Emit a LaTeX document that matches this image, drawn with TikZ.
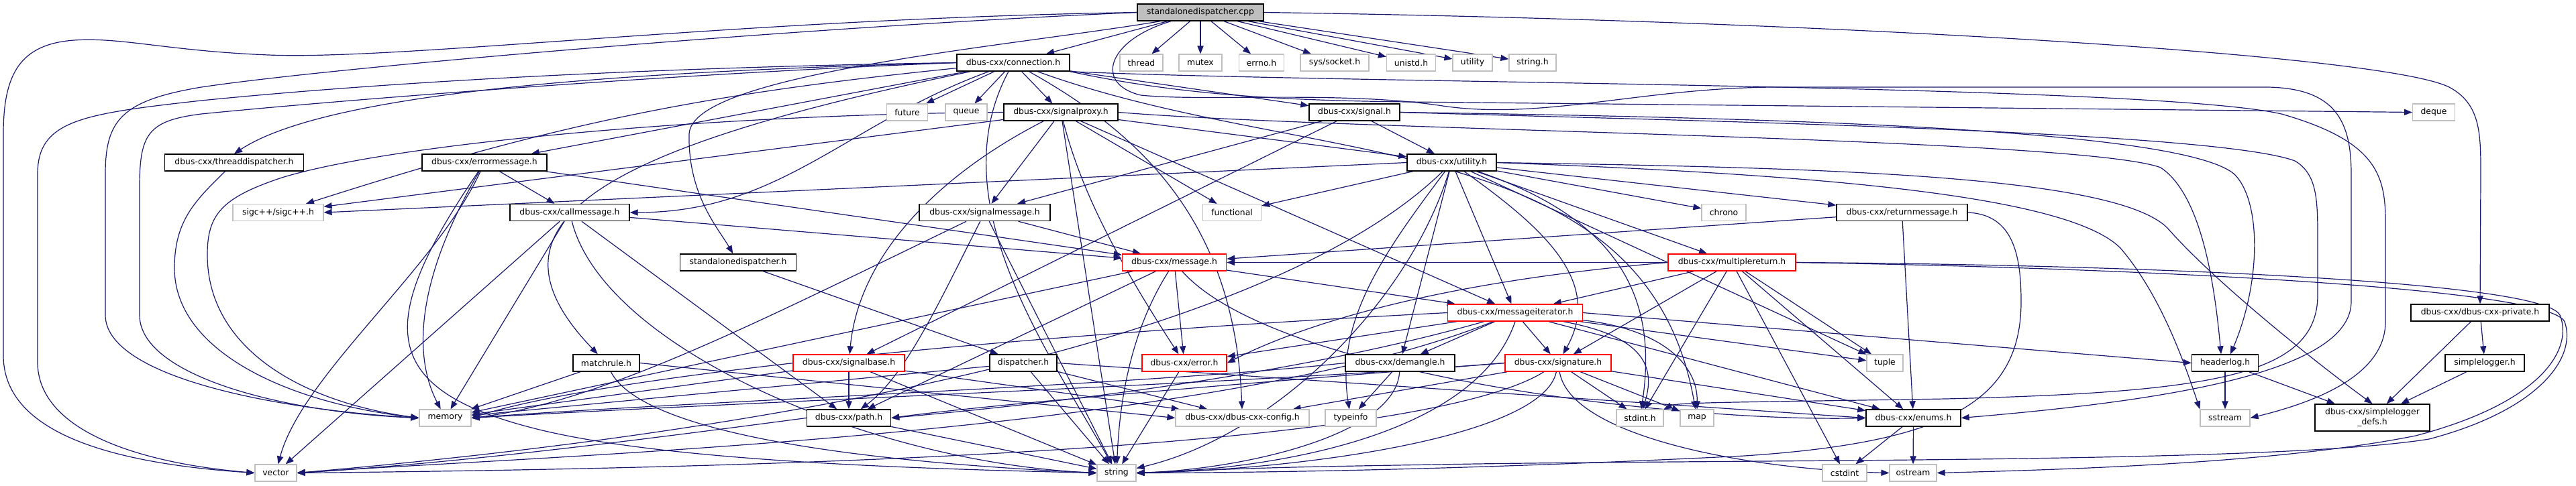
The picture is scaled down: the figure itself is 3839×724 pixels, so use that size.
\documentclass[tikz,border=0pt]{standalone}
\usepackage{fontspec}
\newfontfamily\dotfont{DejaVu Sans}
\usetikzlibrary{arrows.meta,backgrounds}
\definecolor{edgeblue}{HTML}{191970}
\definecolor{sysgray}{HTML}{BFBFBF}
\definecolor{rootgray}{HTML}{BFBFBF}

\begin{document}
\begin{tikzpicture}[
        x=0.5pt, y=-0.5pt,
        hdr/.style={draw=black, line width=0.7pt, fill=white, minimum height=12.5pt, inner xsep=2pt, inner ysep=0pt, font=\dotfont\fontsize{6.2}{7.4}\selectfont},
        redhdr/.style={hdr, draw=red},
        syshdr/.style={hdr, draw=sysgray, line width=0.6pt},
        srcfile/.style={hdr, fill=rootgray},
        inc/.style={-{Triangle[length=6pt,width=4.6pt]}, draw=edgeblue, line width=0.6pt}
    ]
        \useasboundingbox (0,0) rectangle (3839,724);
        \node[srcfile, minimum width=94pt] (cpp) at (1789,18.5) {standalonedispatcher.cpp};
        \node[hdr, minimum width=84pt] (conn) at (1510,93.5) {dbus-cxx/connection.h};
        \node[syshdr, minimum width=32pt] (thread) at (1701,93.5) {thread};
        \node[syshdr, minimum width=32pt] (mutex) at (1789,93.5) {mutex};
        \node[syshdr, minimum width=33.5pt] (errno) at (1880,93.5) {errno.h};
        \node[syshdr, minimum width=51pt] (socket) at (1989,93.5) {sys/socket.h};
        \node[syshdr, minimum width=36.5pt] (unistd) at (2103,93.5) {unistd.h};
        \node[syshdr, minimum width=29.5pt] (utilstd) at (2194.5,93.5) {utility};
        \node[syshdr, minimum width=35pt] (stringh) at (2284,93.5) {string.h};
        \node[syshdr, minimum width=30.5pt] (future) at (1352,167.5) {future};
        \node[syshdr, minimum width=31pt] (queue) at (1440,167.5) {queue};
        \node[hdr, minimum width=85pt] (sigproxy) at (1581,167.5) {dbus-cxx/signalproxy.h};
        \node[hdr, minimum width=67.5pt] (signalh) at (2018.5,167.5) {dbus-cxx/signal.h};
        \node[syshdr, minimum width=31.5pt] (deque) at (3627,167.5) {deque};
        \node[hdr, minimum width=103.5pt] (tdisp) at (349,242.5) {dbus-cxx/threaddispatcher.h};
        \node[hdr, minimum width=93pt] (errmsg) at (722,242.5) {dbus-cxx/errormessage.h};
        \node[hdr, minimum width=66.5pt] (utilh) at (2163.5,242.5) {dbus-cxx/utility.h};
        \node[syshdr, minimum width=67.5pt] (sigc) at (414.5,317) {sigc++/sigc++.h};
        \node[hdr, minimum width=89pt] (callmsg) at (849,317) {dbus-cxx/callmessage.h};
        \node[hdr, minimum width=97.5pt] (sigmsg) at (1467.5,317) {dbus-cxx/signalmessage.h};
        \node[syshdr, minimum width=43.5pt] (functional) at (1836,317) {functional};
        \node[syshdr, minimum width=33pt] (chrono) at (2569,317) {chrono};
        \node[hdr, minimum width=97.5pt] (retmsg) at (2834.5,317) {dbus-cxx/returnmessage.h};
        \node[hdr, minimum width=86.5pt] (sdisph) at (1100,391.5) {standalonedispatcher.h};
        \node[redhdr, minimum width=77.5pt] (msg) at (1750,391.5) {dbus-cxx/message.h};
        \node[redhdr, minimum width=95pt] (multret) at (2581,391.5) {dbus-cxx/multiplereturn.h};
        \node[redhdr, minimum width=100.5pt] (msgiter) at (2258,466.5) {dbus-cxx/messageiterator.h};
        \node[hdr, minimum width=103pt] (priv) at (3696,466.5) {dbus-cxx/dbus-cxx-private.h};
        \node[hdr, minimum width=49.5pt] (matchrule) at (903.5,541.5) {matchrule.h};
        \node[redhdr, minimum width=83pt] (sigbase) at (1265,541.5) {dbus-cxx/signalbase.h};
        \node[hdr, minimum width=50pt] (disp) at (1525,541.5) {dispatcher.h};
        \node[redhdr, minimum width=63pt] (error) at (1765,541.5) {dbus-cxx/error.h};
        \node[hdr, minimum width=81.5pt] (demangle) at (2086.5,541.5) {dbus-cxx/demangle.h};
        \node[redhdr, minimum width=79pt] (signature) at (2322,541.5) {dbus-cxx/signature.h};
        \node[syshdr, minimum width=27pt] (tuple) at (2809,541.5) {tuple};
        \node[hdr, minimum width=49.5pt] (hlog) at (3316,541.5) {headerlog.h};
        \node[hdr, minimum width=59pt] (slogger) at (3703,541.5) {simplelogger.h};
        \node[syshdr, minimum width=38.5pt] (memory) at (663.5,623.5) {memory};
        \node[hdr, minimum width=62.5pt] (path) at (1265,623.5) {dbus-cxx/path.h};
        \node[syshdr, minimum width=99.5pt] (config) at (1851.5,623.5) {dbus-cxx/dbus-cxx-config.h};
        \node[syshdr, minimum width=38pt] (typeinfo) at (2013,623.5) {typeinfo};
        \node[syshdr, minimum width=35pt] (stdint) at (2444,623.5) {stdint.h};
        \node[syshdr, minimum width=25pt] (map) at (2529,623.5) {map};
        \node[hdr, minimum width=70.5pt] (enums) at (2851.5,623.5) {dbus-cxx/enums.h};
        \node[syshdr, minimum width=37pt] (sstream) at (3316,623.5) {sstream};
        \node[hdr, minimum width=85.5pt, minimum height=20pt, align=center] (sldefs) at (3535.5,623) {dbus-cxx/simplelogger\\\_defs.h};
        \node[syshdr, minimum width=31pt] (vector) at (411,705.5) {vector};
        \node[syshdr, minimum width=29pt] (string) at (1664,705.5) {string};
        \node[syshdr, minimum width=33pt] (cstdint) at (2749,705.5) {cstdint};
        \node[syshdr, minimum width=35pt] (ostream) at (2851,705.5) {ostream};
        \begin{scope}[on background layer]
        \fill[white] (0,0) rectangle (3839,724);
        \draw[inc] (cpp) -- (conn);
        \draw[inc] (cpp) -- (thread);
        \draw[inc] (cpp) -- (mutex);
        \draw[inc] (cpp) -- (errno);
        \draw[inc] (cpp) -- (socket);
        \draw[inc] (cpp) -- (unistd);
        \draw[inc] (cpp) -- (utilstd);
        \draw[inc] (cpp) -- (stringh);
        \draw[inc] ([xshift=-30pt]cpp.south) .. controls (1500,70) and (1030,110) .. (1027,200) .. controls (1025,290) and (1070,340) .. (sdisph);
        \draw[inc] (cpp.east) .. controls (2700,30) and (3550,80) .. (3650,130) .. controls (3697,155) and (3697,200) .. (3697,260) -- (priv.north);
        \draw[inc] (cpp.west) .. controls (1100,28) and (600,90) .. (400,82) .. controls (250,76) and (180,55) .. (110,60) .. controls (30,66) and (5,110) .. (5,200) -- (5,530) .. controls (5,640) and (150,690) .. (vector.west);
        \draw[inc] (cpp.west) .. controls (1200,40) and (500,100) .. (300,130) .. controls (180,150) and (157,180) .. (157,260) -- (157,470) .. controls (157,560) and (400,610) .. (memory.west);
        \draw[inc] ([xshift=-22pt]cpp.south) .. controls (1650,60) and (1630,125) .. (1700,142) .. controls (1800,152) and (2000,135) .. (2150,158) .. controls (2300,180) and (2450,130) .. (2650,130) -- (3380,130) .. controls (3480,132) and (3504,180) .. (3504,260) -- (3504,450) .. controls (3504,560) and (3200,600) .. (enums.east);
        \draw[inc] (conn) -- (future);
        \draw[inc] (conn) -- (queue);
        \draw[inc] (conn) -- (sigproxy);
        \draw[inc] (conn) -- (signalh);
        \draw[inc] (conn.south east) .. controls (1750,140) and (1900,150) .. (2100,152) -- (deque.west);
        \draw[inc] (conn.west) .. controls (1000,105) and (500,130) .. (tdisp.north);
        \draw[inc] (conn) -- (errmsg);
        \draw[inc] (conn) to[bend right=6] (sigc);
        \draw[inc] (conn.west) .. controls (1000,100) and (600,120) .. (300,150) .. controls (120,170) and (56,180) .. (56,260) -- (56,540) .. controls (56,640) and (200,690) .. (vector.west);
        \draw[inc] (conn.west) .. controls (1000,110) and (500,150) .. (300,170) .. controls (220,180) and (208,200) .. (208,280) -- (208,470) .. controls (208,560) and (420,615) .. (memory.west);
        \draw[inc] (conn) .. controls (1700,200) and (1840,330) .. (config);
        \draw[inc] (conn) .. controls (900,220) and (700,330) .. (matchrule);
        \draw[inc] (conn) to[out=200,in=0] (callmsg.east);
        \draw[inc] (conn) to[out=-20,in=100] (map);
        \draw[inc] (conn) .. controls (1400,300) and (1560,520) .. (string);
        \draw[inc] (conn.south east) .. controls (2000,125) and (3200,125) .. (3400,170) .. controls (3540,210) and (3555,260) .. (3555,330) -- (3555,480) .. controls (3555,560) and (3450,600) .. (sstream.east);
        \draw[inc] (sigproxy) -- (sigmsg);
        \draw[inc] (sigproxy) -- (utilh);
        \draw[inc] (sigproxy) -- (functional);
        \draw[inc] (sigproxy) -- (sigc);
        \draw[inc] (sigproxy.west) .. controls (1100,170) and (600,210) .. (420,265) .. controls (330,295) and (309,320) .. (309,380) .. controls (309,520) and (450,600) .. (memory.west);
        \draw[inc] (sigproxy) -- (string);
        \draw[inc] (sigproxy) .. controls (1400,260) and (1280,380) .. (sigbase);
        \draw[inc] (sigproxy) .. controls (1610,280) and (1660,380) .. (error);
        \draw[inc] (sigproxy) -- (msgiter);
        \draw[inc] (sigproxy.east) .. controls (2000,195) and (3100,205) .. (3220,250) .. controls (3280,290) and (3300,420) .. ([xshift=-3pt]hlog.north);
        \draw[inc] (signalh) -- (utilh);
        \draw[inc] (signalh) -- (sigmsg);
        \draw[inc] (signalh) -- (sigbase);
        \draw[inc] (signalh.east) .. controls (2600,175) and (3250,190) .. (3330,260) .. controls (3370,300) and (3370,420) .. ([xshift=4pt]hlog.north);
        \draw[inc] (signalh.east) .. controls (2500,180) and (3300,195) .. (3420,240) .. controls (3454,260) and (3454,300) .. (3454,360) -- (3454,440) .. controls (3454,560) and (3300,585) .. (2900,595) .. controls (2600,600) and (2500,600) .. (stdint.north east);
        \draw[inc] (tdisp) .. controls (290,300) and (260,330) .. (260,400) .. controls (260,520) and (420,600) .. (memory.west);
        \draw[inc] (errmsg) -- (callmsg);
        \draw[inc] (errmsg) -- (msg);
        \draw[inc] (errmsg) .. controls (630,400) and (610,520) .. (memory);
        \draw[inc] (errmsg) .. controls (650,400) and (450,560) .. (vector);
        \draw[inc] (errmsg) .. controls (560,480) and (560,580) .. (800,640) .. controls (1000,690) and (1400,700) .. (string.west);
        \draw[inc] (utilh.west) -- (sigc.east);
        \draw[inc] (utilh) -- (chrono);
        \draw[inc] (utilh) -- (retmsg);
        \draw[inc] (utilh) -- (functional);
        \draw[inc] (utilh) -- (demangle);
        \draw[inc] (utilh) -- (msgiter);
        \draw[inc] (utilh) .. controls (2300,340) and (2390,420) .. (signature);
        \draw[inc] (utilh) -- (multret);
        \draw[inc] (utilh) .. controls (2060,380) and (1990,480) .. (typeinfo);
        \draw[inc] (utilh) -- (tuple);
        \draw[inc] (utilh) .. controls (2420,330) and (2470,450) .. (stdint);
        \draw[inc] (utilh.east) .. controls (2700,250) and (3150,260) .. (3230,340) .. controls (3300,420) and (3450,540) .. (sldefs.north);
        \draw[inc] (utilh.east) .. controls (2700,260) and (3080,290) .. (3160,370) .. controls (3220,440) and (3255,540) .. (sstream.north west);
        \draw[inc] (utilh) .. controls (1900,500) and (1200,640) .. (vector.east);
        \draw[inc] (utilh) .. controls (2100,450) and (1900,650) .. (string);
        \draw[inc] (callmsg) -- (msg);
        \draw[inc] (callmsg) -- (memory);
        \draw[inc] (callmsg) -- (vector);
        \draw[inc] (callmsg) .. controls (900,520) and (1300,690) .. (string.west);
        \draw[inc] (callmsg) -- (path);
        \draw[inc] (sigmsg) -- (msg);
        \draw[inc] (sigmsg) .. controls (1150,470) and (900,600) .. (memory.east);
        \draw[inc] (sigmsg) -- (string);
        \draw[inc] (sigmsg) .. controls (1400,450) and (1350,560) .. (path);
        \draw[inc] (retmsg) -- (msg);
        \draw[inc] (retmsg) -- (enums);
        \draw[inc] (retmsg.east) .. controls (3000,320) and (3012,380) .. (3012,450) .. controls (3012,600) and (2900,660) .. (2600,680) .. controls (2200,700) and (1900,705) .. (string.east);
        \draw[inc] (sdisph) -- (disp);
        \draw[inc] (msg) -- (msgiter);
        \draw[inc] (msg) -- (error);
        \draw[inc] (msg) .. controls (1700,470) and (1670,560) .. (string);
        \draw[inc] (msg) -- (memory);
        \draw[inc] (msg) .. controls (1900,560) and (2500,630) .. (enums.west);
        \draw[inc] (msg) -- (path);
        \draw[inc] (multret) -- (msgiter);
        \draw[inc] (multret) -- (signature);
        \draw[inc] (multret.west) .. controls (2150,420) and (1950,480) .. (error.east);
        \draw[inc] (multret) -- (tuple);
        \draw[inc] (multret) -- (enums);
        \draw[inc] (multret) -- (stdint);
        \draw[inc] (multret) -- (cstdint);
        \draw[inc] (multret.west) -- (msg.east);
        \draw[inc] (multret.east) .. controls (3200,395) and (3790,420) .. (3815,470) .. controls (3835,520) and (3790,600) .. (3600,650) .. controls (3400,690) and (3100,700) .. (ostream.east);
        \draw[inc] (multret.east) .. controls (3200,400) and (3800,430) .. (3822,480) .. controls (3840,530) and (3790,610) .. (3620,655) .. controls (3400,690) and (2700,685) .. (2200,692) .. controls (1900,697) .. (string.east);
        \draw[inc] (msgiter) -- (signature);
        \draw[inc] (msgiter) -- (demangle);
        \draw[inc] (msgiter) -- (error);
        \draw[inc] (msgiter.east) -- (hlog.west);
        \draw[inc] (msgiter) -- (tuple);
        \draw[inc] (msgiter) .. controls (2440,500) and (2470,540) .. (stdint);
        \draw[inc] (msgiter) .. controls (2470,490) and (2530,540) .. (map);
        \draw[inc] (msgiter) -- (enums);
        \draw[inc] (msgiter) .. controls (2000,540) and (1700,590) .. (path.east);
        \draw[inc] (msgiter.south) .. controls (2200,650) and (1900,700) .. (string.east);
        \draw[inc] (msgiter.west) .. controls (1500,500) and (900,560) .. (memory.east);
        \draw[inc] (msgiter) .. controls (1800,650) and (800,680) .. (vector.east);
        \draw[inc] (priv) -- (sldefs);
        \draw[inc] (priv) -- (slogger);
        \draw[inc] (matchrule) -- (memory);
        \draw[inc] (matchrule) .. controls (960,650) and (1300,690) .. (string.west);
        \draw[inc] (matchrule.east) -- (config.west);
        \draw[inc] (sigbase) -- (path);
        \draw[inc] (sigbase) -- (memory);
        \draw[inc] (sigbase) -- (string);
        \draw[inc] (sigbase) -- (config);
        \draw[inc] (disp) -- (config);
        \draw[inc] (disp) -- (string);
        \draw[inc] (disp) -- (memory);
        \draw[inc] (disp.east) -- (enums.west);
        \draw[inc] (error) -- (string);
        \draw[inc] (demangle) -- (typeinfo);
        \draw[inc] (demangle) .. controls (2080,650) and (1850,700) .. (string.east);
        \draw[inc] (demangle.west) .. controls (1700,575) and (1000,600) .. (memory.east);
        \draw[inc] (signature) -- (stdint);
        \draw[inc] (signature) -- (map);
        \draw[inc] (signature) -- (enums);
        \draw[inc] (signature) .. controls (2300,650) and (1950,700) .. (string.east);
        \draw[inc] (signature.west) .. controls (1900,570) and (1100,600) .. (memory.east);
        \draw[inc] (signature) .. controls (2100,680) and (1000,700) .. (vector.east);
        \draw[inc] (signature.west) .. controls (2000,560) and (1500,600) .. (path.east);
        \draw[inc] (signature) -- (config);
        \draw[inc] (signature) .. controls (2340,650) and (2600,700) .. (ostream.west);
        \draw[inc] (hlog) -- (sstream);
        \draw[inc] (hlog) -- (sldefs);
        \draw[inc] (slogger) -- (sldefs);
        \draw[inc] (path) -- (string);
        \draw[inc] (path.west) .. controls (1000,650) and (700,690) .. (vector.east);
        \draw[inc] (enums) -- (cstdint);
        \draw[inc] (enums) -- (ostream);
        \end{scope}
    \end{tikzpicture}
\end{document}
